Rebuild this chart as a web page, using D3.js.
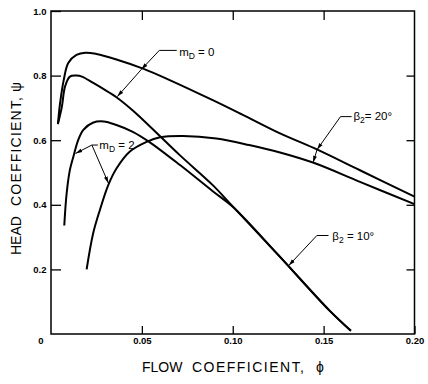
<!DOCTYPE html>
<html>
<head>
<meta charset="utf-8">
<script src="https://cdn.jsdelivr.net/npm/d3@7"></script>
<style>
  body { margin: 0; background: #fff; }
  text { font-family: "Liberation Sans", Arial, sans-serif; fill: #000; }
</style>
</head>
<body>
<div id="chart"></div>
<script>
// head coefficient vs flow coefficient

// m_D = 0, beta2 = 20
let phiA = [0.0038, 0.005, 0.007, 0.0095, 0.014, 0.019, 0.025, 0.036, 0.051, 0.065, 0.089, 0.105, 0.126, 0.1445, 0.17, 0.20]
let psiA = [0.65, 0.715, 0.786, 0.839, 0.864, 0.871, 0.867, 0.850, 0.821, 0.787, 0.724, 0.680, 0.621, 0.576, 0.507, 0.425]

// m_D = 0, beta2 = 10
let phiB = [0.0038, 0.006, 0.0077, 0.0104, 0.014, 0.017, 0.023, 0.029, 0.036, 0.045, 0.054, 0.071, 0.089, 0.100, 0.125, 0.153, 0.165]
let psiB = [0.65, 0.704, 0.766, 0.797, 0.800, 0.797, 0.778, 0.758, 0.733, 0.692, 0.645, 0.553, 0.461, 0.395, 0.245, 0.074, 0.01]

// m_D = 2, beta2 = 20
let phiC = [0.0196, 0.0232, 0.0269, 0.0315, 0.0361, 0.0434, 0.0526, 0.06, 0.0727, 0.091, 0.109, 0.126, 0.1445, 0.17, 0.20]
let psiC = [0.20, 0.312, 0.384, 0.461, 0.513, 0.565, 0.595, 0.609, 0.613, 0.605, 0.585, 0.562, 0.530, 0.471, 0.402]

// m_D = 2, beta2 = 10
let phiD = [0.0073, 0.0086, 0.0104, 0.0123, 0.015, 0.0178, 0.023, 0.029, 0.036, 0.045, 0.054, 0.071, 0.089, 0.100, 0.125, 0.153, 0.165]
let psiD = [0.336, 0.435, 0.508, 0.549, 0.601, 0.632, 0.654, 0.658, 0.647, 0.626, 0.595, 0.523, 0.442, 0.394, 0.245, 0.074, 0.01]

let xTicks = [0.05, 0.10, 0.15, 0.20]
let yTicks = [0.2, 0.4, 0.6, 0.8, 1.0]

let width = 428, height = 384;

let svg = d3.select('#chart').append('svg')
    .attr('width', width)
    .attr('height', height)

let x = d3.scaleLinear().domain([0, 0.2]).range([51, 414.5]);
let y = d3.scaleLinear().domain([0, 1]).range([334, 11]);

// frame
svg.append('rect')
    .attr('x', x(0)).attr('y', y(1))
    .attr('width', x(0.2) - x(0)).attr('height', y(0) - y(1))
    .attr('fill', 'none').attr('stroke', '#000').attr('stroke-width', 1.5)

let axisStyle = g => {
    g.select('.domain').remove();
    g.selectAll('.tick line').attr('stroke', '#000').attr('stroke-width', 1.3);
    g.selectAll('text').attr('font-size', 9.5).attr('font-weight', 'bold')
        .attr('font-family', '"Liberation Sans", Arial, sans-serif');
}

svg.append('g')
    .attr('transform', 'translate(0,' + y(0) + ')')
    .call(d3.axisBottom(x).tickValues(xTicks).tickFormat(d3.format('.2f')).tickSize(-8).tickPadding(3))
    .call(axisStyle)

svg.append('g')
    .attr('transform', 'translate(' + x(0) + ',0)')
    .call(d3.axisLeft(y).tickValues(yTicks).tickFormat(d3.format('.1f')).tickSize(-10).tickPadding(4.5))
    .call(axisStyle)

svg.append('g')
    .attr('transform', 'translate(0,' + y(1) + ')')
    .call(d3.axisTop(x).tickValues(xTicks.slice(0, 3)).tickFormat('').tickSize(-9))
    .call(axisStyle)

svg.append('g')
    .attr('transform', 'translate(' + x(0.2) + ',0)')
    .call(d3.axisRight(y).tickValues(yTicks.slice(0, 4)).tickFormat('').tickSize(-8))
    .call(axisStyle)

// shared origin label
svg.append('text')
    .attr('x', x(0) - 10).attr('y', y(0) + 10)
    .attr('text-anchor', 'middle')
    .attr('font-size', 9.5).attr('font-weight', 'bold')
    .text('0')

// curves
let line = d3.line()
    .x(d => x(d[0]))
    .y(d => y(d[1]))
    .curve(d3.curveCatmullRom.alpha(0.5));

[[phiA, psiA], [phiB, psiB], [phiC, psiC], [phiD, psiD]].forEach(s => {
    svg.append('path')
        .datum(d3.zip(s[0], s[1]))
        .attr('fill', 'none')
        .attr('stroke', '#000')
        .attr('stroke-width', 2)
        .attr('stroke-linejoin', 'round')
        .attr('d', line)
})

// arrow heads
svg.append('defs').append('marker')
    .attr('id', 'arr')
    .attr('viewBox', '0 -3 8 6')
    .attr('refX', 8).attr('refY', 0)
    .attr('markerWidth', 7).attr('markerHeight', 5)
    .attr('markerUnits', 'userSpaceOnUse')
    .attr('orient', 'auto')
    .append('path').attr('d', 'M0,-2.3L8,0L0,2.3Z').attr('fill', '#000')

// callouts: corner, end of the short horizontal, arrow tips (in data units)
let callouts = [
    { corner: [0.0596, 0.878], tail: 0.0692, tips: [[0.0497, 0.819], [0.0365, 0.735]], chain: true,
      main: 'm', sub: 'D', rest: ' = 0', at: [0.0705, 0.862] },
    { corner: [0.0225, 0.585], tail: 0.0258, tips: [[0.0135, 0.559], [0.0316, 0.467]], chain: false,
      main: 'm', sub: 'D', rest: ' = 2', at: [0.0266, 0.573] },
    { corner: [0.1593, 0.673], tail: 0.1654, tips: [[0.1464, 0.571], [0.1442, 0.531]], chain: true,
      main: 'β', sub: '2', rest: '= 20°', at: [0.1664, 0.661] },
    { corner: [0.1463, 0.305], tail: 0.1527, tips: [[0.1308, 0.212]], chain: true,
      main: 'β', sub: '2', rest: ' = 10°', at: [0.1548, 0.290] }
]

callouts.forEach(c => {
    let g = svg.append('g').attr('stroke', '#000').attr('stroke-width', 1)
    g.append('line')
        .attr('x1', x(c.corner[0])).attr('y1', y(c.corner[1]))
        .attr('x2', x(c.tail)).attr('y2', y(c.corner[1]))
    let from = c.corner
    c.tips.forEach(t => {
        g.append('line')
            .attr('x1', x(from[0])).attr('y1', y(from[1]))
            .attr('x2', x(t[0])).attr('y2', y(t[1]))
            .attr('marker-end', 'url(#arr)')
        if (c.chain) from = t
    })
    let txt = svg.append('text')
        .attr('x', x(c.at[0])).attr('y', y(c.at[1]))
        .attr('font-size', 11.5)
    txt.append('tspan').text(c.main)
    txt.append('tspan').attr('dy', 3).attr('font-size', 8.5).text(c.sub)
    txt.append('tspan').attr('dy', -3).text(c.rest)
})

// axis titles
let xt = svg.append('g').attr('font-size', 14)
xt.append('text').attr('x', 142).attr('y', 372).text('FLOW')
xt.append('text').attr('x', 192).attr('y', 372).attr('textLength', 112).attr('lengthAdjust', 'spacing').text('COEFFICIENT,')
xt.append('text').attr('x', 316).attr('y', 372).text('ϕ')

let yt = svg.append('g').attr('font-size', 14)
    .attr('transform', 'translate(20.5,0) rotate(-90)')
yt.append('text').attr('x', -255).attr('y', 0).text('HEAD')
yt.append('text').attr('x', -206).attr('y', 0).attr('textLength', 109).attr('lengthAdjust', 'spacing').text('COEFFICIENT,')
yt.append('text').attr('x', -92).attr('y', 0).text('ψ')
</script>
</body>
</html>
